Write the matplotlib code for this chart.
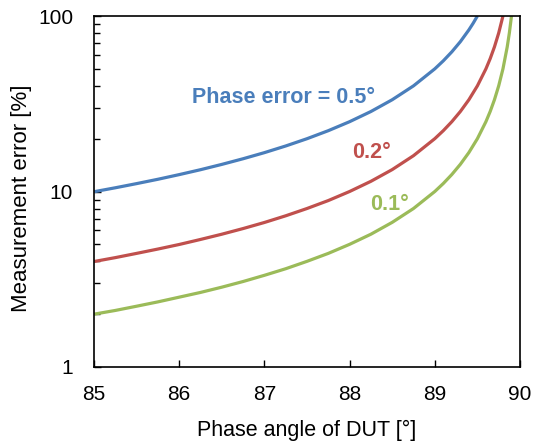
import matplotlib.pyplot as plt

plt.rcParams['font.family'] = ['Liberation Sans', 'DejaVu Sans']

# phase angle of DUT [deg] and measurement error [%] for each phase error
angle_05 = [85, 85.25, 85.5, 85.75, 86, 86.25, 86.5, 86.75, 87, 87.25, 87.5, 87.75,
            88, 88.25, 88.5, 88.75, 89, 89.1, 89.2, 89.3, 89.4, 89.45, 89.5]
err_05 = [9.97, 10.50, 11.09, 11.74, 12.48, 13.31, 14.27, 15.37, 16.65, 18.17, 19.99, 22.21,
          24.99, 28.56, 33.33, 39.99, 49.99, 55.55, 62.50, 71.42, 83.33, 90.9, 100.0]

angle_02 = [85, 85.25, 85.5, 85.75, 86, 86.25, 86.5, 86.75, 87, 87.25, 87.5, 87.75,
            88, 88.25, 88.5, 88.75, 89, 89.1, 89.2, 89.3, 89.4, 89.5, 89.6, 89.65,
            89.7, 89.75, 89.8]
err_02 = [3.99, 4.20, 4.44, 4.70, 4.99, 5.33, 5.71, 6.15, 6.66, 7.27, 8.00, 8.88,
          10.00, 11.43, 13.33, 16.00, 20.00, 22.22, 25.00, 28.57, 33.33, 40.00, 50.00, 57.14,
          66.67, 80.0, 100.0]

angle_01 = [85, 85.25, 85.5, 85.75, 86, 86.25, 86.5, 86.75, 87, 87.25, 87.5, 87.75,
            88, 88.25, 88.5, 88.75, 89, 89.1, 89.2, 89.3, 89.4, 89.5, 89.6, 89.65,
            89.7, 89.75, 89.8, 89.85, 89.875, 89.9]
err_01 = [2.00, 2.10, 2.22, 2.35, 2.50, 2.66, 2.85, 3.07, 3.33, 3.63, 4.00, 4.44,
          5.00, 5.71, 6.67, 8.00, 10.00, 11.11, 12.50, 14.29, 16.67, 20.00, 25.00, 28.57,
          33.33, 40.0, 50.00, 66.67, 80.0, 100.0]

blue = '#4a7ebb'
red = '#c0504d'
green = '#9bbb59'

fig = plt.figure(figsize=(5.33, 4.41), dpi=100)
ax = fig.add_axes([94/533, 1 - 367/441, 426/533, 351/441])

ax.plot(angle_05, err_05, color=blue, lw=2.3, solid_capstyle='butt')
ax.plot(angle_02, err_02, color=red, lw=2.3, solid_capstyle='butt')
ax.plot(angle_01, err_01, color=green, lw=2.3, solid_capstyle='butt')

ax.set_yscale('log')
ax.set_xlim(85, 90)
ax.set_ylim(1, 100)
ax.set_xticks([85, 86, 87, 88, 89, 90])
ax.set_yticks([1, 10, 100])
ax.set_yticklabels(['1', '10', '100'])
ax.tick_params(axis='both', which='major', direction='in', labelsize=15, length=5,
               width=1, top=False, right=False)
ax.tick_params(axis='x', which='major', pad=13)
ax.tick_params(axis='y', which='major', pad=15)
ax.tick_params(axis='y', which='minor', direction='in', length=4, width=1, right=False)
ax.tick_params(axis='x', which='minor', bottom=False)
for s in ax.spines.values():
    s.set_linewidth(1.2)

ax.set_xlabel('Phase angle of DUT [°]', fontsize=15.5)
ax.set_ylabel('Measurement error [%]', fontsize=16)
ax.xaxis.set_label_coords(0.5, -0.150)
ax.yaxis.set_label_coords(-0.146, 0.48)

ax.text(0.23, 0.769, 'Phase error = 0.5°', transform=ax.transAxes, color=blue,
        fontsize=15.5, fontweight='bold', ha='left', va='center')
ax.text(0.606, 0.61, '0.2°', transform=ax.transAxes, color=red,
        fontsize=15.5, fontweight='bold', ha='left', va='center')
ax.text(0.648, 0.462, '0.1°', transform=ax.transAxes, color=green,
        fontsize=15.5, fontweight='bold', ha='left', va='center')

fig.savefig('out.png', dpi=100)
